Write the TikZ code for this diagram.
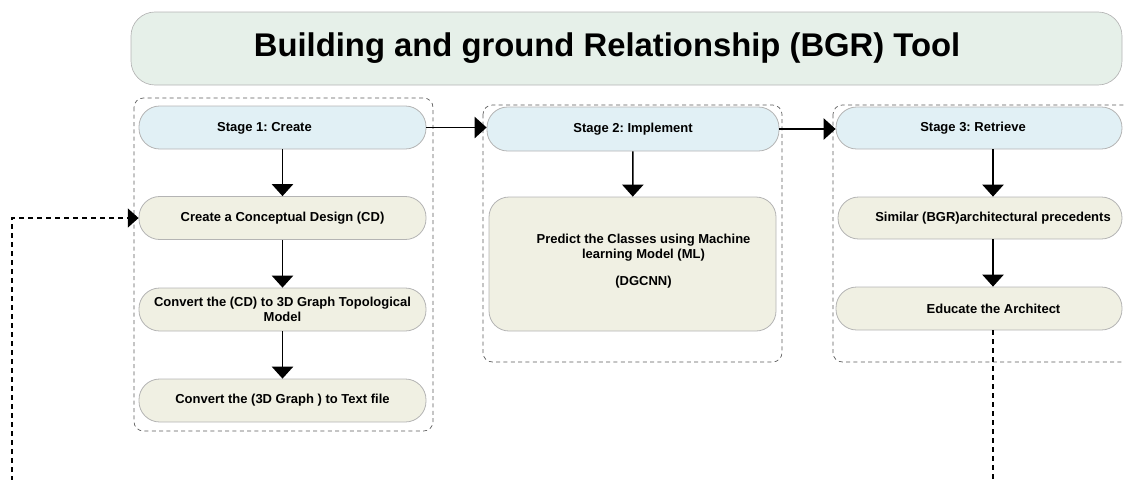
\documentclass[tikz,border=0pt]{standalone}
\usepackage{fontspec}
\setmainfont{Liberation Sans}
\usepackage{tikz}
\usetikzlibrary{arrows.meta,positioning,calc}
\frenchspacing
\definecolor{bgrgreen}{HTML}{E6F0E9}
\definecolor{bgrblue}{HTML}{E1F0F5}
\definecolor{bgrbeige}{HTML}{F0F0E3}
\definecolor{bgredge}{HTML}{B4B4B4}
\definecolor{bgrdash}{HTML}{5A5A5A}

\tikzset{
  pill/.style={draw=bgredge, line width=0.6pt, rounded corners=15.5pt,
    minimum width=215.25pt, minimum height=32.25pt, inner sep=0pt,
    font=\fontsize{9.75}{11.25}\selectfont\bfseries, align=center},
  stagepill/.style={pill, fill=bgrblue},
  taskpill/.style={pill, fill=bgrbeige},
  txt/.style={inner sep=0pt, font=\fontsize{9.75}{11.25}\selectfont\bfseries, align=center},
  stagebox/.style={draw=bgrdash, line width=0.5pt, dash pattern=on 3pt off 2.5pt, rounded corners=7pt},
  flow/.style={line width=1.1pt, -{Triangle[length=9pt,width=16pt]}},
  loopline/.style={line width=1.4pt, dash pattern=on 3.5pt off 3.25pt},
}

\begin{document}
\begin{tikzpicture}[x=0.75pt, y=-0.75pt]
\useasboundingbox (0,0) rectangle (1124,479);
\clip (0,0) rectangle (1124,479);

% Title
\node[draw=bgredge, fill=bgrgreen, line width=0.5pt, rounded corners=18pt,
  minimum width=743.25pt, minimum height=54.75pt] (title) at (626.5,48.5) {};
\node[inner sep=0pt, font=\fontsize{24.6}{30}\selectfont\bfseries] (titlet) at (607,48.5)
  {Building and ground Relationship (BGR) Tool};

% Stage groups
\draw[stagebox] (134,98) rectangle (433,431);
\draw[stagebox] (483,105) rectangle (782,362);
\draw[stagebox] (833,105) rectangle (1150,362);

% Stage 1
\node[stagepill] (s1) at (282.5,127.5) {};
\node[txt] (s1t) at (264.5,128) {Stage 1: Create};
\node[taskpill] (cd) at (282.5,218) {Create a Conceptual Design (CD)};
\node[taskpill] (conv) at (282.5,309.5) {Convert the (CD) to 3D Graph Topological\\Model};
\node[taskpill] (file) at (282.5,400.5) {Convert the (3D Graph ) to Text file};

% Stage 2
\node[stagepill, minimum width=219pt, minimum height=33pt] (s2) at (633,129) {Stage 2: Implement};
\node[taskpill, minimum height=100.5pt, rounded corners=15pt] (pred) at (632.5,264) {};
\node[txt] (predt) at (643.5,261) {Predict the Classes using Machine\\learning Model (ML)\\[9pt](DGCNN)};

% Stage 3
\node[stagepill, minimum width=214.5pt, minimum height=31.5pt] (s3) at (979,128) {};
\node[txt] (s3t) at (973,128) {Stage 3: Retrieve};
\node[taskpill, minimum width=213pt, minimum height=31.5pt] (sim) at (980,218) {};
\node[txt] (simt) at (993,218) {Similar (BGR)architectural precedents};
\node[taskpill, minimum width=214.5pt] (edu) at (979,308.5) {};
\node[txt] (edut) at (993.5,308.5) {Educate the Architect};

% Connectors
\coordinate (rx) at (993,0);
\coordinate (rb) at (993,490);
\coordinate (lb) at (12,490);
\draw[flow] (s1) -- (cd);
\draw[flow] (cd) -- (conv);
\draw[flow] (conv) -- (file);
\draw[flow] (s1.east) -- (s1.east -| s2.west);
\draw[flow] (s2.east) -- (s2.east -| s3.west);
\draw[flow] (s2) -- (pred);
\draw[flow] (s3.south -| rx) -- (sim.north -| rx);
\draw[flow] (sim.south -| rx) -- (edu.north -| rx);

% Feedback loop
\draw[loopline] (edu.south -| rx) -- (rb);
\draw[loopline, -{Triangle[length=8pt,width=14pt]}] (lb) |- (cd.west);

\end{tikzpicture}
\end{document}
